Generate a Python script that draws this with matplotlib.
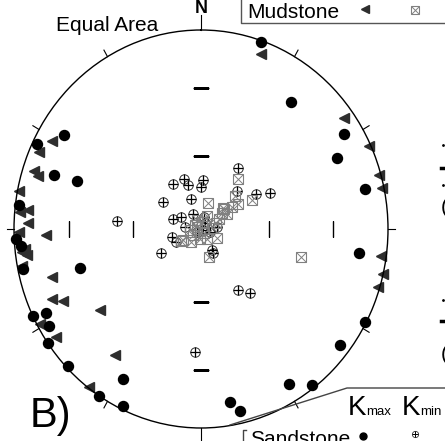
import matplotlib
matplotlib.use('Agg')
import matplotlib.pyplot as plt
import numpy as np

plt.rcParams['font.family'] = ['Liberation Sans', 'DejaVu Sans']

# AMS principal axes: trend / plunge in degrees
sand_kmax_trend = [19, 37, 58, 64, 77, 98, 118, 128, 143, 149, 167, 170, 205, 209, 213,
                   226, 235, 239, 243, 244, 253, 258, 265, 267, 277, 289, 290, 296, 303]
sand_kmax_plunge = [1, 21, 11, 20, 11, 16, 1, 6, 2, 10, 7, 13, 2, 15, 0,
                    1, 0, 6, 8, 0, 33, 3, 4, 1, 2, 18, 30, 3, 14]

mud_kmax_trend = [20, 54, 65, 74, 78, 98, 103, 107, 299, 294, 288, 287, 281, 276, 275,
                  272, 269, 268, 264, 263, 262, 259, 253, 246, 244, 233, 241, 235, 216, 217]
mud_kmax_plunge = [7, 6, 1, 1, 1, 3, 0, 1, 10, 6, 7, 10, 1, 8, 3,
                   8, 3, 18, 6, 4, 7, 3, 18, 14, 19, 33, 2, 6, 23, 1]

sand_kmin_trend = [33, 45, 59, 64, 147, 141, 183, 275, 326, 340, 342, 3, 0, 304, 341,
                   288, 300, 332, 277, 16, 35, 83, 235, 107, 255, 243, 240, 151, 151, 114]
sand_kmin_plunge = [60, 68, 62, 56, 60, 56, 38, 53, 68, 68, 71, 70, 73, 70, 77,
                    77, 80, 83, 83, 85, 87, 83, 88, 86, 77, 78, 70, 80, 79, 89]

mud_kmin_trend = [38, 57, 62, 105, 16, 48, 50, 54, 61, 56, 62, 68, 25, 8, 335,
                  296, 235, 240, 220, 185, 146, 144, 163, 86, 118, 240, 48, 302, 265]
mud_kmin_plunge = [64, 71, 65, 44, 79, 70, 77, 79, 77, 74, 81, 83, 84, 87, 86,
                   88, 86, 81, 83, 86, 85, 88, 78, 85, 82, 80, 77, 87, 85]

# graticule ticks along the N-S and E-W diameters
grid_plunge = [30, 60]
rim_ticks = np.arange(0, 360, 30)


def equal_area(trend, plunge):
    # lower hemisphere Lambert (Schmidt) projection, radius 1 at the primitive
    t = np.radians(np.asarray(trend, dtype=float))
    p = np.radians(np.asarray(plunge, dtype=float))
    r = np.sqrt(2) * np.sin((np.pi / 2 - p) / 2)
    return t, r


fig = plt.figure(figsize=(4.45, 4.41), dpi=100)
ax = fig.add_axes([14 / 445, 13 / 441, 374 / 445, 398 / 441], projection='polar')
ax.set_aspect('auto')
ax.set_theta_zero_location('N')
ax.set_theta_direction(-1)
ax.set_rlim(0, 1)
ax.grid(False)
ax.set_yticks([])
ax.set_xticks([])
ax.spines['polar'].set_linewidth(1.0)
ax.spines['polar'].set_color('black')

# rim ticks every 30 degrees, N and S drawn longer
for az in rim_ticks:
    tip = {0: 1.075, 180: 1.08}.get(int(az), 1.038)
    ax.plot([np.radians(az)] * 2, [1, tip], color='black', lw=0.8, clip_on=False)

# inner dip ticks
gt, gr = equal_area([0] * 2, grid_plunge)
for az, mk in [(0, '_'), (180, '_'), (90, '|'), (270, '|')]:
    ax.plot(np.full(2, np.radians(az)), gr, ls='none', marker=mk,
            ms=11, mew=1.0, color='black')

# sandstone Kmin: circled plus
t, r = equal_area(sand_kmin_trend, sand_kmin_plunge)
ax.plot(t, r, ls='none', marker='o', ms=6.8, mfc='none', mec='#333333', mew=0.7, clip_on=False)
ax.plot(t, r, ls='none', marker='+', ms=6.8, mec='black', mew=0.9, clip_on=False)

# mudstone Kmin: boxed cross
t, r = equal_area(mud_kmin_trend, mud_kmin_plunge)
ax.plot(t, r, ls='none', marker='s', ms=6.5, mfc='none', mec='#808080', mew=0.8, clip_on=False)
ax.plot(t, r, ls='none', marker='x', ms=6.5, mec='#808080', mew=0.7, clip_on=False)

# mudstone Kmax: triangles
t, r = equal_area(mud_kmax_trend, mud_kmax_plunge)
ax.plot(t, r, ls='none', marker='<', ms=6.5, color='#2e2e2e', clip_on=False)

# sandstone Kmax: dots
t, r = equal_area(sand_kmax_trend, sand_kmax_plunge)
ax.plot(t, r, ls='none', marker='o', ms=7.2, color='black', clip_on=False)

# overlay in pixel units for labels and legend boxes
deco = fig.add_axes([0, 0, 1, 1])
deco.set_xlim(0, 445)
deco.set_ylim(441, 0)
deco.axis('off')
deco.patch.set_alpha(0)

deco.text(201, 13, 'N', fontsize=13, fontweight='bold', ha='center', va='baseline')
deco.text(56, 31, 'Equal Area', fontsize=15, va='baseline')
deco.text(30, 427, 'B)', fontsize=30, va='baseline')

# mudstone legend
deco.plot([241, 241, 445], [0, 23, 23], color='#555555', lw=1)
deco.text(247, 18, 'Mudstone', fontsize=15, va='baseline')
deco.plot([365], [9], marker='<', ms=5.5, color='#2e2e2e', ls='none')
deco.plot([415], [10], marker='s', ms=6, mfc='none', mec='#808080', mew=0.8, ls='none')
deco.plot([415], [10], marker='x', ms=6, mec='#808080', mew=0.7, ls='none')

# sandstone legend
deco.plot([230, 347, 445], [425, 388, 388], color='#444444', lw=1)
deco.plot([246, 243, 243], [430, 430, 441], color='#444444', lw=1)
deco.text(348, 415, 'K', fontsize=20, va='baseline')
deco.text(366, 415, 'max', fontsize=9.5, va='baseline')
deco.text(402, 415, 'K', fontsize=20, va='baseline')
deco.text(420, 415, 'min', fontsize=9.5, va='baseline')
deco.text(250, 445, 'Sandstone', fontsize=15, va='baseline')
deco.plot([363], [436], marker='o', ms=5, color='black', ls='none')
deco.plot([415], [434], marker='o', ms=4.5, mfc='none', mec='#333333', mew=0.6, ls='none')
deco.plot([415], [434], marker='+', ms=4.5, mec='black', mew=0.7, ls='none')

# neighbouring panel text at the right edge
deco.text(441, 213, '(', fontsize=15, va='baseline')
deco.text(441, 360, '(', fontsize=15, va='baseline')
deco.plot([441, 445], [168, 168], color='black', lw=2.5)
deco.plot([441, 445], [321, 321], color='black', lw=2.5)
deco.plot([443], [145], marker='.', ms=2, color='black')
deco.plot([443], [185], marker='.', ms=2, color='black')
deco.plot([443], [300], marker='.', ms=2, color='black')

fig.savefig('out.png', dpi=100)
